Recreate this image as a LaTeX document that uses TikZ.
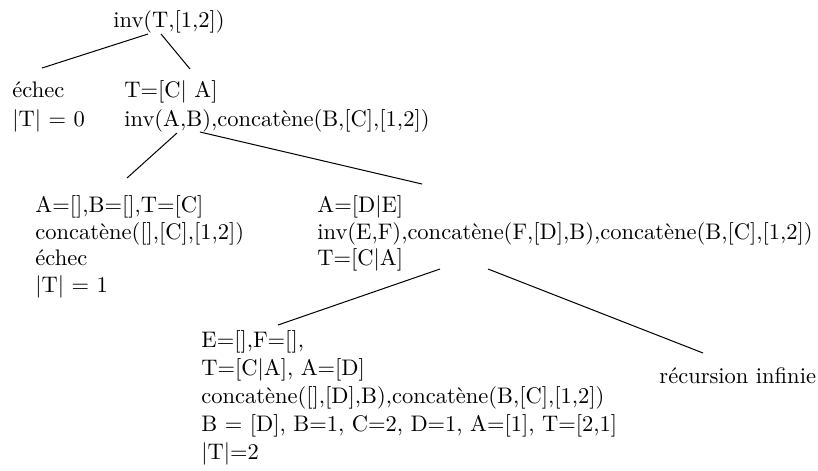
\documentclass[tikz,border=0pt]{standalone}
\begin{document}
\begin{tikzpicture}[x=0.4444pt,y=-0.4444pt,
  lbl/.style={anchor=north west,inner sep=0pt,align=left,yshift=8.7pt},
  wide/.style={lbl,font=\fontsize{10}{12.6}\selectfont},
  tight/.style={lbl,font=\fontsize{10}{11.8}\selectfont},
  loose/.style={lbl,font=\fontsize{10}{12.4}\selectfont},
  edge/.style={line width=0.45pt}]
\useasboundingbox (0,0) rectangle (818,470);

% goals of the resolution tree
\node[wide] (root) at (113,27) {\strut inv(T,[1,2])};
\node[wide] (fail0) at (12,97) {\strut échec\\|T| = 0};
\node[wide] (n1) at (124,97) {\strut T=[C| A]\\inv(A,B),concatène(B,[C],[1,2])};
\node[tight] (fail1) at (35,213) {\strut A=[],B=[],T=[C]\\concatène([],[C],[1,2])\\échec\\|T| = 1};
\node[tight] (n2) at (317,213) {\strut A=[D|E]\\inv(E,F),concatène(F,[D],B),concatène(B,[C],[1,2])\\T=[C|A]};
\node[loose] (ok) at (201,347) {\strut E=[],F=[],\\T=[C|A], A=[D]\\concatène([],[D],B),concatène(B,[C],[1,2])\\B = [D], B=1, C=2, D=1, A=[1], T=[2,1]\\|T|=2};
\node[wide] (inf) at (659,383) {\strut récursion infinie};

% branch end points
\coordinate (root-l) at (148,34);
\coordinate (root-r) at (161,34);
\coordinate (fail0-t) at (42,68);
\coordinate (n1-t) at (190,69);
\coordinate (n1-l) at (177,133);
\coordinate (n1-r) at (200,132);
\coordinate (fail1-t) at (127,178);
\coordinate (n2-t) at (422,184);
\coordinate (n2-l) at (440,269);
\coordinate (n2-r) at (488,269);
\coordinate (ok-t) at (278,325);
\coordinate (inf-t) at (703,353);

% branches
\draw[edge] (root-l) -- (fail0-t);
\draw[edge] (root-r) -- (n1-t);
\draw[edge] (n1-l) -- (fail1-t);
\draw[edge] (n1-r) -- (n2-t);
\draw[edge] (n2-l) -- (ok-t);
\draw[edge] (n2-r) -- (inf-t);
\end{tikzpicture}
\end{document}
